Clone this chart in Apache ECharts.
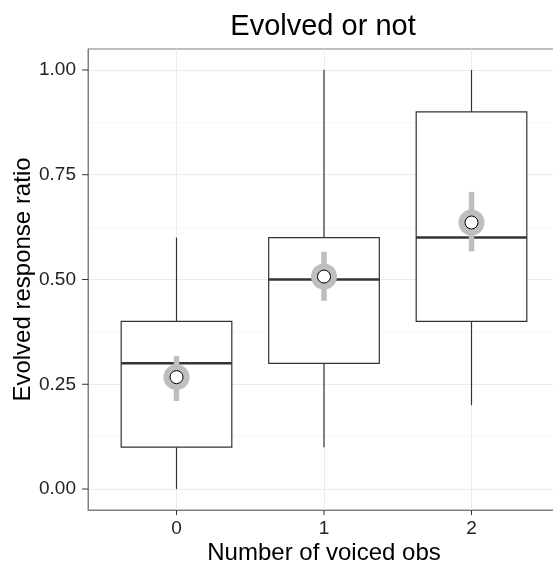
<!DOCTYPE html>
<html>
<head>
<meta charset="utf-8">
<script src="https://cdn.jsdelivr.net/npm/echarts@6/dist/echarts.min.js"></script>
<style>
  html, body { margin: 0; padding: 0; background: #fff; }
  #chart { width: 553px; height: 562px; }
</style>
</head>
<body>
<div id="chart"></div>
<script>
// boxplot stats per group
const categories = [0, 1, 2]
const lows = [0, 0.1, 0.2]
const q1s = [0.1, 0.3, 0.4]
const medians = [0.3, 0.5, 0.6]
const q3s = [0.4, 0.6, 0.9]
const highs = [0.6, 1.0, 1.0]
// mean and its interval (grey point range)
const means = [0.267, 0.507, 0.636]
const ciLows = [0.21, 0.449, 0.567]
const ciHighs = [0.317, 0.566, 0.709]
// axis ticks
const yTicks = [0, 0.25, 0.5, 0.75, 1]
const yMinorTicks = [0.125, 0.375, 0.625, 0.875]

const FONT = '"Liberation Sans", Arial, Helvetica, sans-serif'
const BOX_HALF = 0.375
const TICK_LEN = 5

let myChart = echarts.init(document.getElementById('chart'), null, { renderer: 'canvas' })

const boxData = categories.map((c, i) => [c, lows[i], q1s[i], medians[i], q3s[i], highs[i]])
const meanData = categories.map((c, i) => [c, means[i], ciLows[i], ciHighs[i]])

// tick marks drawn as short custom lines (the built-in ones got lost with custom values)
const tickStyle = { stroke: '#333', lineWidth: 1 }

const options = {
    backgroundColor: '#fff',
    animation: false,
    title: {
        text: 'Evolved or not',
        left: 323,
        top: 12,
        padding: 0,
        textAlign: 'center',
        textStyle: { fontFamily: FONT, fontSize: 29, fontWeight: 'normal', color: '#000' }
    },
    grid: {
        left: 88,
        right: -7,
        top: 49,
        bottom: 52,
        outerBoundsMode: 'none',
        containLabel: false,
        show: true,
        borderColor: '#7f7f7f',
        borderWidth: 1,
        backgroundColor: '#fff'
    },
    xAxis: {
        type: 'value',
        min: -0.6,
        max: 2.6,
        name: 'Number of voiced obs',
        nameLocation: 'middle',
        nameGap: 31,
        nameMoveOverlap: false,
        nameTextStyle: { fontFamily: FONT, fontSize: 24, color: '#000', verticalAlign: 'top' },
        axisLine: { show: true, onZero: false, lineStyle: { color: '#7f7f7f', width: 1 } },
        axisTick: { show: false, customValues: categories },
        axisLabel: {
            customValues: categories,
            margin: 9,
            fontFamily: FONT, fontSize: 19, color: '#222'
        },
        splitLine: { show: true, lineStyle: { color: '#ebebeb', width: 1 } }
    },
    yAxis: [
        {
            type: 'value',
            position: 'left',
            min: -0.05,
            max: 1.05,
            name: 'Evolved response ratio',
            nameLocation: 'middle',
            nameGap: 53,
            nameMoveOverlap: false,
            nameTextStyle: { fontFamily: FONT, fontSize: 24, color: '#000' },
            axisLine: { show: true, onZero: false, lineStyle: { color: '#7f7f7f', width: 1 } },
            axisTick: { show: false, customValues: yTicks },
            axisLabel: {
                customValues: yTicks,
                margin: 12,
                fontFamily: FONT, fontSize: 19, color: '#222',
                formatter: v => v.toFixed(2)
            },
            splitLine: { show: true, lineStyle: { color: '#ebebeb', width: 1 } }
        },
        {
            type: 'value',
            position: 'left',
            min: -0.05,
            max: 1.05,
            axisLine: { show: false, onZero: false },
            axisTick: { show: false, customValues: yMinorTicks },
            axisLabel: { show: false, customValues: yMinorTicks },
            splitLine: { show: true, lineStyle: { color: '#f7f7f7', width: 1 } }
        }
    ],
    series: [
        {
            type: 'custom',
            name: 'box',
            data: boxData,
            encode: { x: 0, y: [1, 2, 3, 4, 5] },
            z: 3,
            renderItem: (params, api) => {
                const x = api.value(0)
                const pLow = api.coord([x, api.value(1)])
                const pQ1 = api.coord([x, api.value(2)])
                const pQ3 = api.coord([x, api.value(4)])
                const pHigh = api.coord([x, api.value(5)])
                const tl = api.coord([x - BOX_HALF, api.value(4)])
                const br = api.coord([x + BOX_HALF, api.value(2)])
                const mL = api.coord([x - BOX_HALF, api.value(3)])
                const mR = api.coord([x + BOX_HALF, api.value(3)])
                const lineStyle = { stroke: '#333', lineWidth: 1.2 }
                return {
                    type: 'group',
                    children: [
                        { type: 'line', shape: { x1: pLow[0], y1: pLow[1], x2: pQ1[0], y2: pQ1[1] }, style: lineStyle },
                        { type: 'line', shape: { x1: pQ3[0], y1: pQ3[1], x2: pHigh[0], y2: pHigh[1] }, style: lineStyle },
                        {
                            type: 'rect',
                            shape: { x: tl[0], y: tl[1], width: br[0] - tl[0], height: br[1] - tl[1] },
                            style: { fill: '#fff', stroke: '#333', lineWidth: 1.2 }
                        },
                        { type: 'line', shape: { x1: mL[0], y1: mL[1], x2: mR[0], y2: mR[1] }, style: { stroke: '#333', lineWidth: 2.5 } }
                    ]
                }
            }
        },
        {
            type: 'custom',
            name: 'mean',
            data: meanData,
            encode: { x: 0, y: [1, 2, 3] },
            z: 4,
            renderItem: (params, api) => {
                const x = api.value(0)
                const c = api.coord([x, api.value(1)])
                const lo = api.coord([x, api.value(2)])
                const hi = api.coord([x, api.value(3)])
                return {
                    type: 'group',
                    children: [
                        { type: 'line', shape: { x1: lo[0], y1: lo[1], x2: hi[0], y2: hi[1] }, style: { stroke: '#bebebe', lineWidth: 5.5 } },
                        { type: 'circle', shape: { cx: c[0], cy: c[1], r: 13 }, style: { fill: '#bebebe' } },
                        { type: 'circle', shape: { cx: c[0], cy: c[1], r: 6.5 }, style: { fill: '#fff', stroke: '#000', lineWidth: 1 } }
                    ]
                }
            }
        },
        {
            type: 'custom',
            name: 'yTicks',
            data: yTicks.map(v => [0, v]),
            encode: { x: 0, y: 1 },
            clip: false,
            silent: true,
            z: 5,
            renderItem: (params, api) => {
                const y = api.coord([0, api.value(1)])[1]
                const x0 = params.coordSys.x
                return { type: 'line', shape: { x1: x0 - TICK_LEN - 1, y1: y, x2: x0, y2: y }, style: tickStyle }
            }
        },
        {
            type: 'custom',
            name: 'xTicks',
            data: categories.map(c => [c, 0]),
            encode: { x: 0, y: 1 },
            clip: false,
            silent: true,
            z: 5,
            renderItem: (params, api) => {
                const x = api.coord([api.value(0), 0])[0]
                const y0 = params.coordSys.y + params.coordSys.height
                return { type: 'line', shape: { x1: x, y1: y0, x2: x, y2: y0 + TICK_LEN }, style: tickStyle }
            }
        }
    ]
}
myChart.setOption(options)
</script>
</body>
</html>
